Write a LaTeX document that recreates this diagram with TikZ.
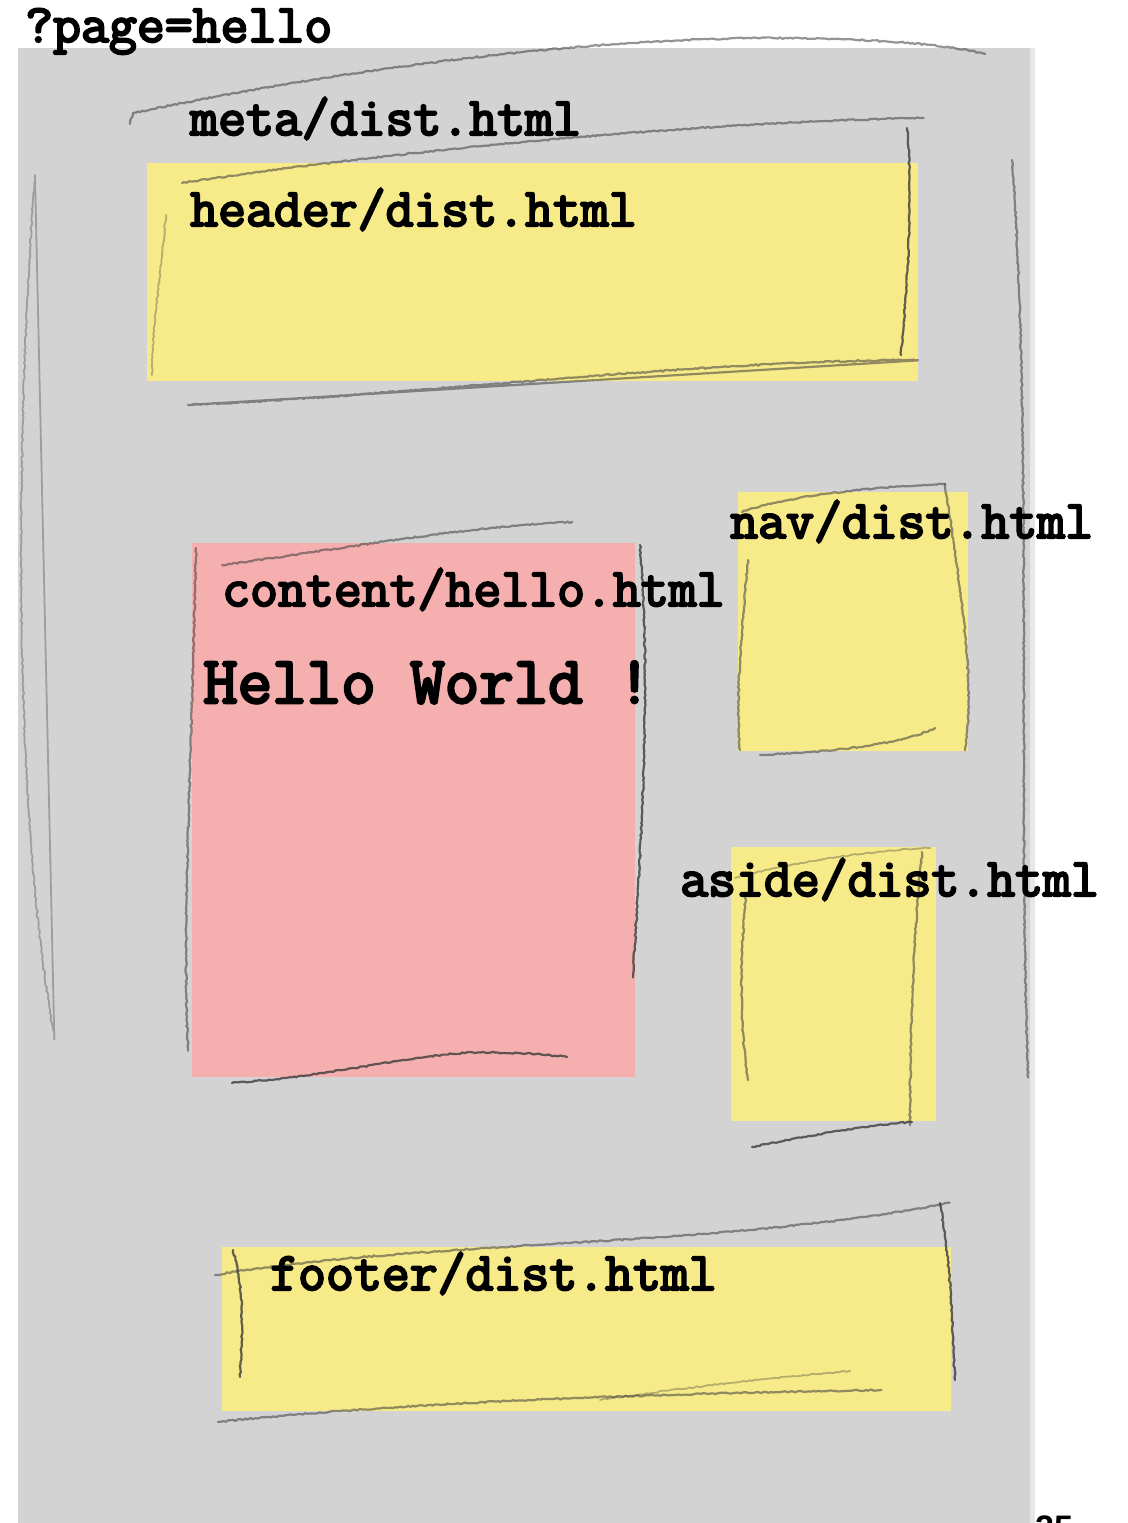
\documentclass[tikz,border=0pt]{standalone}
\usepackage{fontspec}
\setsansfont{Liberation Sans}
\newfontfamily\typewriter[FakeBold=4]{Latin Modern Mono}
\usetikzlibrary{decorations.pathmorphing}

\definecolor{pagegray}{RGB}{211,211,211}
\definecolor{noteyellow}{RGB}{247,234,136}
\definecolor{notepink}{RGB}{246,175,175}
\definecolor{pencil}{RGB}{60,60,60}

\begin{document}
\begin{tikzpicture}[x=1pt,y=-1pt,
  filename/.style={inner sep=0pt, anchor=base west,
    font=\typewriter\fontsize{54.2}{58}\selectfont},
  bigtext/.style={inner sep=0pt, anchor=base west,
    font=\typewriter\fontsize{67}{72}\selectfont},
  note/.style={inner sep=0pt, anchor=north west, draw=none},
  stroke/.style={draw=pencil, line width=2.2pt, line cap=round, opacity=0.8,
    decorate, decoration={random steps, segment length=2.5pt, amplitude=0.7pt}},
  faint/.style={stroke, opacity=0.55},
  pale/.style={stroke, opacity=0.35, line width=1.8pt}]

\useasboundingbox (0,0) rectangle (1127,1523);

% sheet of paper
\fill[pagegray] (18,48) rectangle (1030,1523);
\fill[pagegray!55!white] (1030,48) rectangle (1035,1523);

% coloured notes
\node[note, fill=noteyellow, minimum width=771pt, minimum height=218pt] (header) at (147,163) {};
\node[note, fill=notepink,   minimum width=443pt, minimum height=534pt] (content) at (192,543) {};
\node[note, fill=noteyellow, minimum width=230pt, minimum height=259pt] (nav) at (738,492) {};
\node[note, fill=noteyellow, minimum width=205pt, minimum height=274pt] (aside) at (731,847) {};
\node[note, fill=noteyellow, minimum width=729pt, minimum height=164pt] (footer) at (222,1247) {};

% pencil outline of the page (meta)
\draw[faint] (130,124) -- (133,113) .. controls (330,72) and (560,40) .. (760,38)
  .. controls (880,38) and (950,45) .. (985,54);
\draw[pale] (35,175) .. controls (14,450) and (14,820) .. (55,1040);
\draw[faint] (1012,160) .. controls (1032,420) and (1018,800) .. (1028,1075);

% pencil outline of the header
\draw[faint] (182,183) .. controls (400,150) and (700,122) .. (922,118);
\draw[stroke] (907,128) .. controls (914,200) and (906,300) .. (901,355);
\draw[faint] (188,405) .. controls (420,395) and (700,360) .. (918,360);
\draw[pale] (166,215) .. controls (160,280) and (152,330) .. (152,375);

% pencil outline of the content
\draw[faint] (222,565) .. controls (350,548) and (450,528) .. (572,522);
\draw[stroke] (640,545) .. controls (652,700) and (640,850) .. (633,977);
\draw[faint] (196,548) .. controls (192,750) and (182,920) .. (188,1050);
\draw[stroke] (232,1083) .. controls (350,1075) and (430,1048) .. (503,1053)
  .. controls (530,1053) and (550,1055) .. (567,1057);

% pencil outline of the nav
\draw[faint] (742,512) .. controls (790,495) and (880,486) .. (945,484);
\draw[faint] (945,484) .. controls (962,600) and (975,680) .. (965,750);
\draw[faint] (748,560) .. controls (740,650) and (736,700) .. (740,750);
\draw[faint] (760,755) .. controls (830,752) and (900,745) .. (935,728);

% pencil outline of the aside
\draw[pale] (735,878) .. controls (800,860) and (880,850) .. (930,848);
\draw[faint] (746,895) .. controls (738,980) and (742,1040) .. (748,1080);
\draw[faint] (922,852) .. controls (912,950) and (910,1050) .. (910,1125);
\draw[stroke] (752,1147) .. controls (820,1133) and (880,1124) .. (912,1122);

% pencil outline of the footer
\draw[faint] (215,1275) .. controls (420,1240) and (720,1248) .. (948,1203);
\draw[stroke] (233,1250) .. controls (245,1290) and (242,1340) .. (240,1377);
\draw[stroke] (940,1203) .. controls (952,1270) and (952,1330) .. (955,1380);
\draw[faint] (218,1422) .. controls (420,1400) and (700,1393) .. (880,1390);
\draw[pale] (600,1400) .. controls (700,1385) and (800,1375) .. (850,1371);

% labels
\node[filename] (query)      at (25,42)   {?page=hello};
\node[filename] (metaname)   at (190,135) {meta/dist.html};
\node[filename] (headername) at (190,226) {header/dist.html};
\node[filename] (navname)    at (730,538) {nav/dist.html};
\node[filename] (contentname) at (222,606) {content/hello.html};
\node[bigtext]  (hello)      at (203,703) {Hello World !};
\node[filename] (asidename)  at (680,896) {aside/dist.html};
\node[filename] (footername) at (270,1290) {footer/dist.html};

% page number, cut by the lower edge
\node[inner sep=0pt, anchor=north west, font=\sffamily\bfseries\fontsize{34}{36}\selectfont]
  (pagenum) at (1035,1516) {25};
\end{tikzpicture}
\end{document}
